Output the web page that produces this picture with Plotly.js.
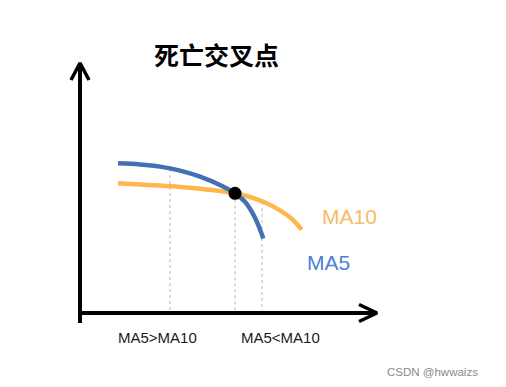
<!DOCTYPE html>
<html>
<head>
<meta charset="utf-8">
<script src="https://cdn.plot.ly/plotly-3.0.1.min.js"></script>
<style>html,body{margin:0;padding:0;background:#fff}#chart{width:506px;height:387px}</style>
</head>
<body>
<div id="chart"></div>
<script>
// Schematic "death cross" data (conceptual units, origin at axis corner)
const ma5X = [3.8, 6.0, 8.0, 10.0, 12.0, 14.0, 15.5, 16.5, 17.5, 18.33];
const ma5Y = [14.97, 14.86, 14.64, 14.24, 13.64, 12.8, 11.97, 11.12, 9.52, 7.45];
const ma10X = [3.8, 6.0, 8.0, 10.0, 12.0, 14.0, 15.5, 17.0, 18.5, 20.0, 21.2, 22.17];
const ma10Y = [12.97, 12.86, 12.74, 12.6, 12.42, 12.2, 11.98, 11.6, 11.05, 10.27, 9.4, 8.33];
const crossX = [15.5];
const crossY = [11.97];
const guideX = [9.0, 15.5, 18.2];
const guideTop = [14.4, 11.97, 11.1];
const titleText = '死亡交叉点';
const seriesNames = ['MA5', 'MA10'];
const regionLabels = ['MA5>MA10', 'MA5<MA10'];
const watermark = 'CSDN @hwwaizs';

const traces = [];
// guide dotted lines
guideX.forEach((gx, i) => {
  traces.push({x: [gx, gx], y: [guideTop[i], 0], mode: 'lines',
    line: {color: '#b8b8b8', width: 1, dash: 'dot'}, hoverinfo: 'skip'});
});
// axes with arrows
traces.push({x: [0, 29.7], y: [0, 0], mode: 'lines', line: {color: '#000', width: 4}, hoverinfo: 'skip'});
traces.push({x: [0, 0], y: [-1.0, 25.0], mode: 'lines', line: {color: '#000', width: 4}, hoverinfo: 'skip'});
traces.push({x: [27.9, 29.7, 27.9], y: [0.85, 0, -0.85], mode: 'lines', line: {color: '#000', width: 3.5}, hoverinfo: 'skip'});
traces.push({x: [-0.9, 0, 0.9], y: [23.3, 25.0, 23.3], mode: 'lines', line: {color: '#000', width: 3.5}, hoverinfo: 'skip'});
// curves
traces.push({x: ma10X, y: ma10Y, mode: 'lines', name: seriesNames[1],
  line: {color: '#FFB74D', width: 4.5, shape: 'spline', smoothing: 1}});
traces.push({x: ma5X, y: ma5Y, mode: 'lines', name: seriesNames[0],
  line: {color: '#4270B2', width: 4.5, shape: 'spline', smoothing: 1}});
traces.push({x: crossX, y: crossY, mode: 'markers', marker: {color: '#000', size: 13}});

const layout = {
  width: 506, height: 387,
  margin: {l: 0, r: 0, t: 0, b: 0},
  paper_bgcolor: '#fff', plot_bgcolor: '#fff',
  showlegend: false,
  xaxis: {range: [-8.0, 42.6], visible: false, fixedrange: true},
  yaxis: {range: [-7.4, 31.3], visible: false, fixedrange: true},
  annotations: [
    {text: titleText, x: 13.6, y: 25.9, xref: 'x', yref: 'y', showarrow: false,
      font: {family: 'Noto Sans CJK SC', size: 25, color: '#000', weight: 600}},
    {text: regionLabels[0], x: 7.75, y: -2.4, xref: 'x', yref: 'y', showarrow: false,
      font: {family: 'Liberation Sans, Arial', size: 15, color: '#1a1a1a'}},
    {text: regionLabels[1], x: 20.0, y: -2.4, xref: 'x', yref: 'y', showarrow: false,
      font: {family: 'Liberation Sans, Arial', size: 15, color: '#1a1a1a'}},
    {text: seriesNames[1], x: 26.95, y: 9.65, xref: 'x', yref: 'y', showarrow: false,
      font: {family: 'Liberation Sans, Arial', size: 21, color: '#F7BC66'}},
    {text: seriesNames[0], x: 24.85, y: 5.05, xref: 'x', yref: 'y', showarrow: false,
      font: {family: 'Liberation Sans, Arial', size: 21, color: '#4C7ED8'}},
    {text: watermark, x: 480/506, y: 1 - 372/387, xref: 'paper', yref: 'paper',
      xanchor: 'right', yanchor: 'middle', showarrow: false,
      font: {family: 'Liberation Sans, Arial', size: 11.5, color: '#8a8a8a'}}
  ]
};
Plotly.newPlot('chart', traces, layout, {staticPlot: true, displayModeBar: false});
</script>
</body>
</html>
